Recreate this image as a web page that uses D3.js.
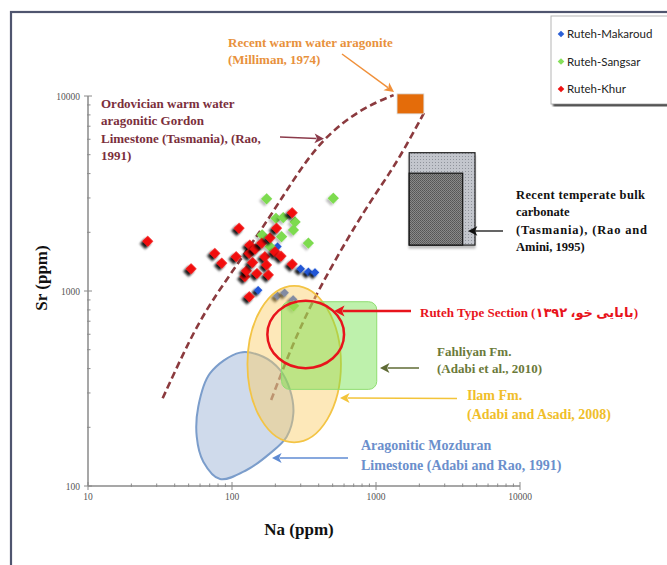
<!DOCTYPE html>
<html>
<head>
<meta charset="utf-8">
<script src="https://cdn.jsdelivr.net/npm/d3@7.9.0/dist/d3.min.js"></script>
<style>
  html, body { margin: 0; padding: 0; background: #fff; }
  svg { display: block; }
</style>
</head>
<body>
<svg id="chart" width="667" height="565"></svg>
<script>
// ---- data (Na ppm, Sr ppm) ----
const seriesNames = ["Ruteh-Makaroud", "Ruteh-Sangsar", "Ruteh-Khur"];

const makaroudNa = [300, 339, 377, 152, 207, 232, 266, 207];
const makaroudSr = [1300, 1255, 1245, 1010, 945, 980, 905, 1690];

const sangsarNa = [174, 505, 202, 227, 274, 267, 221, 162, 339, 184, 268];
const sangsarSr = [2970, 2990, 2360, 2380, 2260, 2055, 1900, 1940, 1760, 1690, 840];

const khurNa = [26, 52, 76, 85, 107, 112, 132, 123, 126, 133, 132, 145, 139, 149, 161, 169, 174, 179, 184, 199, 204, 219, 262, 262];
const khurSr = [1800, 1300, 1560, 1390, 1500, 2100, 935, 1185, 1270, 1720, 1560, 1640, 1400, 1230, 1760, 1500, 1360, 1210, 1875, 1590, 2100, 1510, 2520, 1375];

// reference fields, in data units
const ordovicianUpper = [[33, 282], [47, 498], [68, 847], [150, 1900], [265, 3706], [422, 6039], [796, 8676], [1325, 10100]];
const ordovicianLower = [[187, 276], [265, 541], [395, 1012], [774, 2393], [1119, 3581], [1468, 4866], [2154, 8183]];
const warmAragoniteNa = [1400, 2150], warmAragoniteSr = [8100, 10250];
const temperateOuterNa = [1700, 4870], temperateOuterSr = [1720, 5120];
const temperateInnerNa = [1700, 4000], temperateInnerSr = [1720, 4020];
const fahliyanNa = [221, 1012], fahliyanSr = [313, 881];
const ilamNa = [128, 571], ilamSr = [167.5, 1062];
const rutehNa = [176, 600], rutehSr = [402, 891];
const mozduran = [[113.7, 483], [164.8, 460], [215.4, 393.6], [253, 310.5], [266.8, 236], [239.8, 179],
  [183.6, 147], [126.5, 120.8], [82.6, 108.6], [63.2, 133.3], [56.9, 179], [58.3, 255], [70.3, 378]];

const xMajor = [10, 100, 1000, 10000];
const yMajor = [100, 1000, 10000];

// ---- setup ----
const serif = "'Liberation Serif', 'Times New Roman', 'DejaVu Sans', serif";
const svg = d3.select("#chart");
const x = d3.scaleLog().domain([10, 10000]).range([88, 520]);
const y = d3.scaleLog().domain([100, 10000]).range([486, 96]);

const defs = svg.append("defs");
const shadow = defs.append("filter").attr("id", "shadow").attr("x", "-50%").attr("y", "-50%").attr("width", "200%").attr("height", "250%");
shadow.append("feDropShadow").attr("dx", 0).attr("dy", 3.5).attr("stdDeviation", 1.3)
  .attr("flood-color", "#000").attr("flood-opacity", 0.9);
const softShadow = defs.append("filter").attr("id", "softShadow").attr("x", "-50%").attr("y", "-50%").attr("width", "200%").attr("height", "250%");
softShadow.append("feDropShadow").attr("dx", 0).attr("dy", 3).attr("stdDeviation", 1.3)
  .attr("flood-color", "#000").attr("flood-opacity", 0.25);
const blur = defs.append("filter").attr("id", "blur");
blur.append("feGaussianBlur").attr("stdDeviation", 1.2);

const dots = defs.append("pattern").attr("id", "dots").attr("width", 3).attr("height", 3).attr("patternUnits", "userSpaceOnUse");
dots.append("rect").attr("width", 3).attr("height", 3).attr("fill", "#c3c6cd");
dots.append("rect").attr("width", 1).attr("height", 1).attr("fill", "#8f939b");
const hatch = defs.append("pattern").attr("id", "hatch").attr("width", 2).attr("height", 2).attr("patternUnits", "userSpaceOnUse");
hatch.append("rect").attr("width", 2).attr("height", 2).attr("fill", "#8a8a8a");
hatch.append("rect").attr("width", 1).attr("height", 1).attr("fill", "#555");
hatch.append("rect").attr("x", 1).attr("y", 1).attr("width", 1).attr("height", 1).attr("fill", "#5e5e5e");

// outer frame
svg.append("rect").attr("x", 11).attr("y", 12).attr("width", 700).attr("height", 600)
  .attr("fill", "#fff").attr("stroke", "#4f556f").attr("stroke-width", 2.2);

// ---- axes ----
const axisColor = "#8a8a8a";
const ax = svg.append("g");
ax.append("line").attr("x1", x(10)).attr("x2", x(10000)).attr("y1", y(100)).attr("y2", y(100))
  .attr("stroke", axisColor).attr("stroke-width", 1.5);
ax.append("line").attr("x1", x(10)).attr("x2", x(10)).attr("y1", y(100)).attr("y2", y(10000))
  .attr("stroke", axisColor).attr("stroke-width", 1.5);

ax.selectAll(".xt").data(x.ticks()).join("line")
  .attr("x1", d => x(d)).attr("x2", d => x(d))
  .attr("y1", d => y(100) - (xMajor.includes(d) ? 4 : 2.5))
  .attr("y2", d => y(100) + (xMajor.includes(d) ? 4 : 1))
  .attr("stroke", axisColor).attr("stroke-width", 1);
ax.selectAll(".yt").data(y.ticks()).join("line")
  .attr("y1", d => y(d)).attr("y2", d => y(d))
  .attr("x1", d => x(10) - (yMajor.includes(d) ? 4 : 1))
  .attr("x2", d => x(10) + (yMajor.includes(d) ? 4 : 2.5))
  .attr("stroke", axisColor).attr("stroke-width", 1);

ax.selectAll(".xl").data(xMajor).join("text").attr("font-family", serif)
  .attr("x", d => x(d)).attr("y", 500).attr("text-anchor", "middle")
  .attr("font-size", 9.5).attr("fill", "#555").text(d => d);
ax.selectAll(".yl").data(yMajor).join("text").attr("font-family", serif)
  .attr("x", 80).attr("y", d => y(d) + 3.5).attr("text-anchor", "end")
  .attr("font-size", 9.5).attr("fill", "#555").text(d => d);

svg.append("text").attr("font-family", serif).attr("x", 299).attr("y", 535).attr("text-anchor", "middle")
  .attr("font-size", 17).attr("font-weight", "bold").attr("fill", "#111").text("Na (ppm)");
svg.append("text").attr("font-family", serif).attr("transform", "translate(47,278) rotate(-90)")
  .attr("text-anchor", "middle").attr("font-size", 17).attr("font-weight", "bold").attr("fill", "#111").text("Sr (ppm)");

// ---- dashed trend curves ----
const curve = d3.line().x(d => x(d[0])).y(d => y(d[1])).curve(d3.curveBasis);
[ordovicianUpper, ordovicianLower].forEach(c => {
  svg.append("path").attr("d", curve(c)).attr("fill", "none")
    .attr("stroke", "#8b3a3e").attr("stroke-width", 2.6).attr("stroke-dasharray", "7,4");
});

// ---- points ----
const diamond = d3.symbol().type(d3.symbolSquare);
function drawSeries(na, sr, color, size, filt) {
  svg.append("g").selectAll("path").data(na.map((d, i) => [d, sr[i]])).join("path")
    .attr("d", diamond.size(size)())
    .attr("transform", d => `translate(${x(d[0])},${y(d[1])}) rotate(45)`)
    .attr("fill", color).attr("filter", filt);
}
drawSeries(makaroudNa, makaroudSr, "#2457d6", 38, "url(#shadow)");
drawSeries(sangsarNa, sangsarSr, "#7ddb4f", 64, "url(#softShadow)");
drawSeries(khurNa, khurSr, "#f20d0d", 60, "url(#shadow)");

// ---- reference fields ----
const blob = d3.line().x(d => x(d[0])).y(d => y(d[1])).curve(d3.curveCatmullRomClosed);
svg.append("path").attr("d", blob(mozduran))
  .attr("fill", "rgba(140,168,208,0.42)").attr("stroke", "#7b9dcb").attr("stroke-width", 2);

function ellipse(na, sr) {
  return { cx: (x(na[0]) + x(na[1])) / 2, cy: (y(sr[0]) + y(sr[1])) / 2,
           rx: (x(na[1]) - x(na[0])) / 2, ry: (y(sr[0]) - y(sr[1])) / 2 };
}
const ilam = ellipse(ilamNa, ilamSr);
svg.append("ellipse").attr("cx", ilam.cx).attr("cy", ilam.cy).attr("rx", ilam.rx).attr("ry", ilam.ry)
  .attr("fill", "rgba(250,205,100,0.45)").attr("stroke", "#f3c445").attr("stroke-width", 1.8);

svg.append("rect").attr("x", x(fahliyanNa[0])).attr("y", y(fahliyanSr[1]))
  .attr("width", x(fahliyanNa[1]) - x(fahliyanNa[0])).attr("height", y(fahliyanSr[0]) - y(fahliyanSr[1]))
  .attr("rx", 8).attr("fill", "rgba(110,225,70,0.45)").attr("stroke", "#8fdd70").attr("stroke-width", 1);

const ruteh = ellipse(rutehNa, rutehSr);
svg.append("ellipse").attr("cx", ruteh.cx).attr("cy", ruteh.cy).attr("rx", ruteh.rx).attr("ry", ruteh.ry)
  .attr("fill", "none").attr("stroke", "#e8141c").attr("stroke-width", 2.5);

// warm water aragonite box
svg.append("rect").attr("x", x(warmAragoniteNa[0])).attr("y", y(warmAragoniteSr[1]))
  .attr("width", x(warmAragoniteNa[1]) - x(warmAragoniteNa[0]))
  .attr("height", y(warmAragoniteSr[0]) - y(warmAragoniteSr[1]))
  .attr("fill", "#e46c0a").attr("stroke", "#d9d9d9").attr("stroke-width", 0.8);

// temperate bulk carbonate boxes
svg.append("rect").attr("x", x(temperateOuterNa[0])).attr("y", y(temperateOuterSr[1]))
  .attr("width", x(temperateOuterNa[1]) - x(temperateOuterNa[0]))
  .attr("height", y(temperateOuterSr[0]) - y(temperateOuterSr[1]))
  .attr("fill", "url(#dots)").attr("stroke", "#222").attr("stroke-width", 1.2).attr("filter", "url(#softShadow)");
svg.append("rect").attr("x", x(temperateInnerNa[0])).attr("y", y(temperateInnerSr[1]))
  .attr("width", x(temperateInnerNa[1]) - x(temperateInnerNa[0]))
  .attr("height", y(temperateInnerSr[0]) - y(temperateInnerSr[1]))
  .attr("fill", "url(#hatch)").attr("stroke", "#111").attr("stroke-width", 1.2);

// ---- arrows ----
function arrow(x1, y1, x2, y2, color, w) {
  const a = Math.atan2(y2 - y1, x2 - x1), L = 8 + w, H = 4 + w * 0.6;
  svg.append("line").attr("x1", x1).attr("y1", y1)
    .attr("x2", x2 - Math.cos(a) * (L - 2)).attr("y2", y2 - Math.sin(a) * (L - 2))
    .attr("stroke", color).attr("stroke-width", w);
  const p = [[x2, y2],
    [x2 - L * Math.cos(a) + H * Math.sin(a), y2 - L * Math.sin(a) - H * Math.cos(a)],
    [x2 - (L - 2.5) * Math.cos(a), y2 - (L - 2.5) * Math.sin(a)],
    [x2 - L * Math.cos(a) - H * Math.sin(a), y2 - L * Math.sin(a) + H * Math.cos(a)]];
  svg.append("path").attr("d", "M" + p.join("L") + "Z").attr("fill", color);
}
arrow(342, 54, 394, 92, "#f0903a", 1.5);
arrow(280, 137, 324, 138.7, "#8b3a4a", 1.5);
arrow(503, 231, 468, 231, "#111", 1.3);
arrow(411, 311, 334, 311, "#e8141c", 2.5);
arrow(419, 368, 380, 368, "#5f6b35", 1.5);
arrow(457, 398.5, 340, 398, "#f3c43a", 1.6);
arrow(348, 458, 272, 458, "#5f8bd3", 1.6);

// ---- labels ----
function label(lines, x0, y0, dy, color, size, widths) {
  const t = svg.append("text").attr("font-family", serif).attr("font-weight", "bold")
    .attr("font-size", size).attr("fill", color);
  lines.forEach((s, i) => {
    const ts = t.append("tspan").attr("x", x0).attr("y", y0 + i * dy).text(s);
    if (widths && widths[i]) ts.attr("textLength", widths[i]).attr("lengthAdjust", "spacing");
  });
}
label(["Recent warm water aragonite", "(Milliman, 1974)"], 228, 47, 17, "#e8913c", 13);
label(["Ordovician warm water", "aragonitic Gordon", "Limestone (Tasmania), (Rao,", "1991)"], 101, 108, 17.3, "#7b2f3c", 13);
label(["Recent temperate bulk", "carbonate", "(Tasmania), (Rao and", "Amini, 1995)"], 516, 199, 17.3, "#111", 12.5, [129, 0, 131, 0]);
label(["Fahliyan Fm.", "(Adabi et al., 2010)"], 437, 356, 17.2, "#6b7a3a", 13);
label(["Ilam Fm.", "(Adabi and Asadi, 2008)"], 467, 400, 19.2, "#f0be2a", 14);
label(["Aragonitic Mozduran", "Limestone (Adabi and Rao, 1991)"], 361, 450, 20, "#6b8fcc", 14);
label(["Ruteh Type Section  (بابایی خو، ۱۳۹۲)"], 420, 316.5, 0, "#e8141c", 13);

// ---- legend ----
const lg = svg.append("g");
lg.append("rect").attr("x", 553).attr("y", 101).attr("width", 130).attr("height", 5)
  .attr("fill", "#000").attr("filter", "url(#blur)");
lg.append("rect").attr("x", 551).attr("y", 16).attr("width", 130).attr("height", 88)
  .attr("fill", "#fff").attr("stroke", "#b5b5b5").attr("stroke-width", 1);
const legendColors = ["#2a5fd6", "#86e05a", "#ee1111"];
seriesNames.forEach((n, i) => {
  const yy = 34 + i * 27.5;
  lg.append("path").attr("d", diamond.size(22)())
    .attr("transform", `translate(561,${yy}) rotate(45)`).attr("fill", legendColors[i]);
  lg.append("text").attr("x", 567).attr("y", yy + 4).attr("font-family", "Lato, 'Open Sans', sans-serif")
    .attr("font-size", 11.5).attr("fill", "#222").text(n);
});
</script>
</body>
</html>
